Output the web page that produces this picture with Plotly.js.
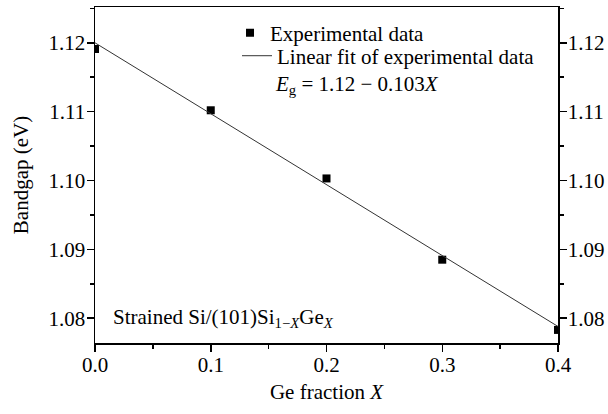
<!DOCTYPE html>
<html><head><meta charset="utf-8">
<script src="https://cdn.plot.ly/plotly-3.0.1.min.js"></script>
<style>html,body{margin:0;padding:0;background:#fff}</style>
</head><body>
<div id="chart" style="width:608px;height:414px"></div>
<script>
const geFraction = [0.0, 0.1, 0.2, 0.3, 0.4];
const bandgap = [1.1191, 1.1102, 1.1003, 1.0885, 1.0783];
const fitX = [0.0, 0.4];
const fitY = [1.12, 1.0788];
const yTicks = [1.08, 1.09, 1.10, 1.11, 1.12];
const xTicks = [0.0, 0.1, 0.2, 0.3, 0.4];

const SERIF = 'Liberation Serif';
function f(size) { return {family: SERIF, size: size, color: '#000'}; }
const traces = [
  {x: geFraction, y: bandgap, type: 'scatter', mode: 'markers', name: 'Experimental data',
   marker: {symbol: 'square', size: 8, color: '#000'}, legend: 'legend'},
  {x: fitX, y: fitY, type: 'scatter', mode: 'lines', name: 'Linear fit of experimental data',
   line: {color: '#333', width: 1}, legend: 'legend2'},
  {x: geFraction, y: bandgap, type: 'scatter', mode: 'markers', yaxis: 'y2', showlegend: false,
   hoverinfo: 'skip', marker: {opacity: 0}}
];
const yRange = [1.0764, 1.1252];
function yAxis(extra) {
  return Object.assign({
    range: yRange, tickvals: yTicks, ticktext: yTicks.map(v => v.toFixed(2)),
    ticks: 'outside', ticklen: 7, tickwidth: 1.5, tickcolor: '#000',
    showline: true, linewidth: 1.5, linecolor: '#000', showgrid: false, zeroline: false,
    minor: {dtick: 0.005, tick0: 1.075, ticks: 'outside', ticklen: 4, tickwidth: 1.5, tickcolor: '#000'},
    tickfont: f(21), ticklabelstandoff: -3
  }, extra);
}
const legendBase = {xanchor: 'left', yanchor: 'middle', bgcolor: 'rgba(0,0,0,0)', font: f(21)};
const layout = {
  width: 608, height: 414,
  margin: {l: 95, r: 50, t: 7, b: 71},
  paper_bgcolor: '#fff', plot_bgcolor: '#fff',
  font: f(21),
  xaxis: {
    range: [0, 0.4], tickvals: xTicks, ticktext: xTicks.map(v => v.toFixed(1)),
    ticks: 'outside', ticklen: 7, tickwidth: 1.5, tickcolor: '#000',
    showline: true, linewidth: 1.5, linecolor: '#000', mirror: true,
    showgrid: false, zeroline: false,
    minor: {dtick: 0.05, ticks: 'outside', ticklen: 4, tickwidth: 1.5, tickcolor: '#000'},
    tickfont: f(21), ticklabelstandoff: -5,
    title: {text: 'Ge fraction <i>X</i>', font: f(21), standoff: 8}
  },
  yaxis: yAxis({title: {text: 'Bandgap (eV)', font: f(21), standoff: 14}}),
  yaxis2: yAxis({overlaying: 'y', side: 'right'}),
  showlegend: true,
  legend: Object.assign({x: 0.2916, y: 0.9226}, legendBase),
  legend2: Object.assign({x: 0.3067, y: 0.854}, legendBase),
  annotations: [
    {xref: 'paper', yref: 'paper', x: 0.385, y: 0.767, xanchor: 'left', yanchor: 'middle', showarrow: false,
     text: '<i>E</i><sub>g</sub> = 1.12 − 0.103<i>X</i>', font: f(21)},
    {xref: 'paper', yref: 'paper', x: 0.035, y: 0.075, xanchor: 'left', yanchor: 'middle', showarrow: false,
     text: 'Strained Si/(101)Si<sub>1−<i>X</i></sub>Ge<sub><i>X</i></sub>', font: f(21)}
  ]
};
Plotly.newPlot('chart', traces, layout, {displayModeBar: false, staticPlot: true});
</script>
</body></html>
